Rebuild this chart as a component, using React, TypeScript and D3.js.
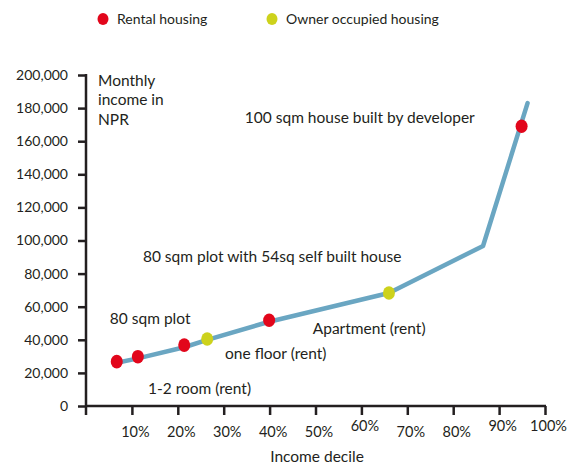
import * as d3 from "d3";
import { useEffect, useRef } from "react";

// income decile (%) and monthly income (NPR) along the curve
const curveDecile = [6.5, 11.3, 21.4, 26.4, 39.9, 66, 86.5, 96.2];
const curveIncome = [26000, 28800, 35500, 39900, 50900, 68300, 96700, 183000];

// housing markers
const rentalDecile = [6.7, 11.3, 21.4, 39.9, 94.9];
const rentalIncome = [26800, 29800, 36800, 51800, 169000];
const ownerDecile = [26.4, 66];
const ownerIncome = [40500, 68300];

const yTicks = [0, 20000, 40000, 60000, 80000, 100000, 120000, 140000, 160000, 180000, 200000];
const xTicks = [10, 20, 30, 40, 50, 60, 70, 80, 90, 100];
const raisedXLabels = [60, 90, 100];

const legendItems = ["Rental housing", "Owner occupied housing"];

const notes = [
  { text: "100 sqm house built by developer", d: 34.6, v: 170700 },
  { text: "80 sqm plot with 54sq self built house", d: 12.4, v: 87300 },
  { text: "80 sqm plot", d: 5.2, v: 49800 },
  { text: "Apartment (rent)", d: 49.4, v: 43800 },
  { text: "one floor (rent)", d: 30.3, v: 28100 },
  { text: "1-2 room (rent)", d: 13.5, v: 7550 },
];

const RED = "#e2061b";
const YELLOW = "#cdd21c";
const LINE = "#6aa6c2";
const FONT = "Lato, 'Open Sans', sans-serif";

export default function App() {
  const ref = useRef<SVGSVGElement | null>(null);

  useEffect(() => {
    const el = ref.current;
    if (!el) return;
    const svg = d3.select(el);
    svg.selectAll("*").remove();

    const x = d3.scaleLinear().domain([0, 100]).range([86, 545]);
    const y = d3.scaleLinear().domain([0, 200000]).range([406, 75]);

    const ink = "#231f20";

    // y axis
    const ya = svg.append("g").attr("transform", `translate(${x(0)},0)`);
    ya.call(
      d3
        .axisLeft(y)
        .tickValues(yTicks)
        .tickSize(8)
        .tickPadding(10)
        .tickFormat((v) => d3.format(",")(v as number)),
    );
    ya.select(".domain").remove();
    ya.selectAll(".tick line").attr("stroke", ink).attr("stroke-width", 2.5);
    ya.selectAll(".tick text")
      .attr("fill", ink)
      .attr("font-family", FONT)
      .attr("font-size", 14);
    ya.append("line")
      .attr("x1", 0)
      .attr("x2", 0)
      .attr("y1", y(200000) - 1)
      .attr("y2", y(0) + 9)
      .attr("stroke", ink)
      .attr("stroke-width", 2.5);

    // x axis
    const xa = svg.append("g").attr("transform", `translate(0,${y(0)})`);
    xa.call(d3.axisBottom(x).tickValues(xTicks).tickSize(9).tickPadding(12).tickFormat((v) => `${v}%`));
    xa.select(".domain").remove();
    xa.selectAll(".tick line").attr("stroke", ink).attr("stroke-width", 2.5);
    xa.selectAll<SVGTextElement, number>(".tick text")
      .attr("fill", ink)
      .attr("font-family", FONT)
      .attr("font-size", 14.5)
      .attr("dx", 3)
      .attr("dy", (v) => (raisedXLabels.includes(v) ? "0.3em" : "0.71em"));
    xa.append("line")
      .attr("x1", x(0))
      .attr("x2", x(100) + 1)
      .attr("y1", 0)
      .attr("y2", 0)
      .attr("stroke", ink)
      .attr("stroke-width", 2.5);

    svg
      .append("text")
      .attr("x", 317)
      .attr("y", 462)
      .attr("text-anchor", "middle")
      .attr("font-family", FONT)
      .attr("font-size", 15.5)
      .attr("fill", ink)
      .text("Income decile");

    // y label
    const yl = svg
      .append("text")
      .attr("x", 98)
      .attr("y", 85.5)
      .attr("font-family", FONT)
      .attr("font-size", 15.5)
      .attr("fill", ink);
    ["Monthly", "income in", "NPR"].forEach((s, i) =>
      yl.append("tspan").attr("x", 98).attr("dy", i === 0 ? 0 : 19.5).text(s),
    );

    // curve
    const pts = curveDecile.map((d, i) => [d, curveIncome[i]] as [number, number]);
    svg
      .append("path")
      .attr(
        "d",
        d3
          .line<[number, number]>()
          .x((p) => x(p[0]))
          .y((p) => y(p[1]))(pts),
      )
      .attr("fill", "none")
      .attr("stroke", LINE)
      .attr("stroke-width", 4.5)
      .attr("stroke-linecap", "round")
      .attr("stroke-linejoin", "round");

    const drawDots = (ds: number[], vs: number[], c: string) =>
      svg
        .append("g")
        .selectAll("ellipse")
        .data(ds)
        .join("ellipse")
        .attr("cx", (d) => x(d))
        .attr("cy", (_, i) => y(vs[i]))
        .attr("rx", 6)
        .attr("ry", 6.8)
        .attr("fill", c);
    drawDots(rentalDecile, rentalIncome, RED);
    drawDots(ownerDecile, ownerIncome, YELLOW);

    // annotations
    svg
      .append("g")
      .selectAll("text")
      .data(notes)
      .join("text")
      .attr("x", (n) => x(n.d))
      .attr("y", (n) => y(n.v))
      .attr("font-family", FONT)
      .attr("font-size", 15.5)
      .attr("fill", ink)
      .text((n) => n.text);

    // legend
    const lg = svg.append("g");
    const legendX = [103, 272];
    legendItems.forEach((t, i) => {
      lg.append("ellipse")
        .attr("cx", legendX[i])
        .attr("cy", 19)
        .attr("rx", 5.5)
        .attr("ry", 6)
        .attr("fill", i === 0 ? RED : YELLOW);
      lg.append("text")
        .attr("x", legendX[i] + 14)
        .attr("y", 23.5)
        .attr("font-family", FONT)
        .attr("font-size", 14)
        .attr("fill", ink)
        .text(t);
    });
  }, []);

  return (
    <svg
      ref={ref}
      width={576}
      height={467}
      style={{ position: "absolute", left: 0, top: 0, background: "#fff" }}
    />
  );
}
